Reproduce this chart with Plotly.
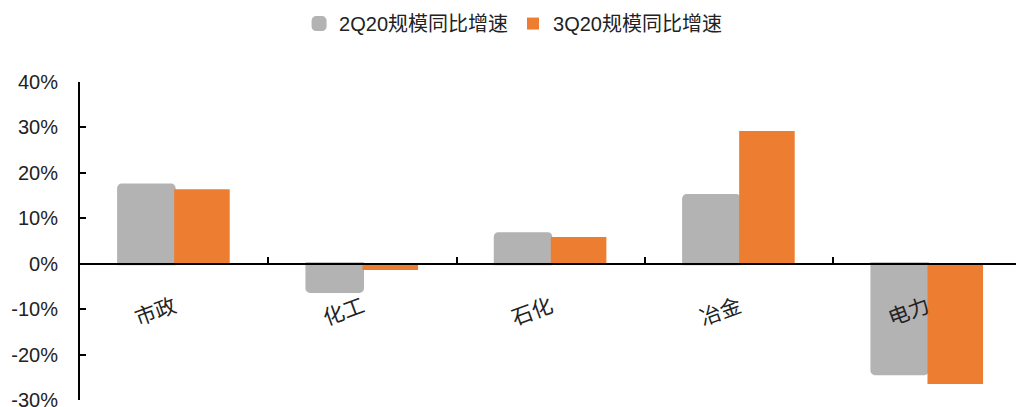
import plotly.graph_objects as go

categories = ["市政", "化工", "石化", "冶金", "电力"]
q2_growth = [17.3, -6.1, 6.6, 15.0, -24.2]
q3_growth = [16.4, -1.4, 5.9, 29.2, -26.5]
series_names = ["2Q20规模同比增速", "3Q20规模同比增速"]
y_ticks = [-30, -20, -10, 0, 10, 20, 30, 40]
y_tick_labels = [f"{v}%" for v in y_ticks]

GREY = "#b3b3b3"
ORANGE = "#ed7d31"
FONT = "Liberation Sans, Arial, Noto Sans CJK SC, sans-serif"

fig = go.Figure()
fig.add_trace(go.Bar(
    x=categories, y=q2_growth, name=series_names[0],
    marker=dict(color=GREY, line=dict(color=GREY, width=3), cornerradius=3),
))
fig.add_trace(go.Bar(
    x=categories, y=q3_growth, name=series_names[1],
    marker=dict(color=ORANGE, line=dict(width=0)),
))

fig.update_layout(
    width=1016, height=407,
    margin=dict(l=80, r=0, t=82, b=7),
    paper_bgcolor="white", plot_bgcolor="white",
    barmode="group", bargap=0.41, bargroupgap=0,
    font=dict(family=FONT, color="#222222", size=18),
    showlegend=True,
    legend=dict(orientation="h", xref="container", yref="container",
                x=0.505, y=0.99, xanchor="center", yanchor="top",
                font=dict(size=20), traceorder="normal",
                itemwidth=30),
    xaxis=dict(
        type="category", range=[-0.5, 4.47],
        anchor="free", position=3/7, automargin=False,
        showline=True, linecolor="black", linewidth=2,
        ticks="inside", ticklen=6, tickwidth=2, tickcolor="black",
        tickson="boundaries", tickangle=-20,
        ticklabelstandoff=22, ticklabeloverflow="allow",
        tickfont=dict(size=21, family=FONT, color="#222222"),
        showgrid=False, zeroline=False,
    ),
    yaxis=dict(
        range=[-30, 40], tickvals=y_ticks, ticktext=y_tick_labels,
        automargin=False,
        showline=True, linecolor="black", linewidth=2,
        ticks="inside", ticklen=6, tickwidth=2, tickcolor="black",
        ticklabelstandoff=16, ticklabeloverflow="allow",
        tickfont=dict(size=20, family=FONT, color="#222222"),
        showgrid=False, zeroline=False,
    ),
)

fig.write_html("out.html")
